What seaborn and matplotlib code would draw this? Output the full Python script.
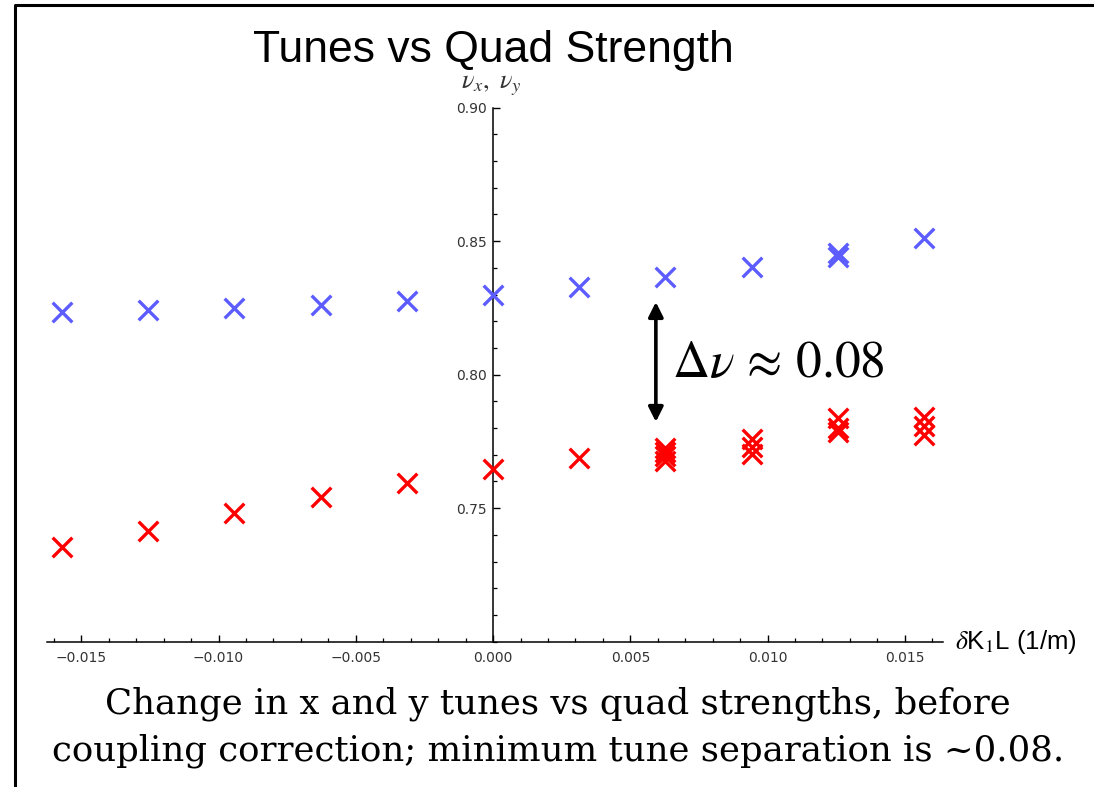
import numpy as np
import pandas as pd
import matplotlib
matplotlib.use("Agg")
import matplotlib.pyplot as plt
from matplotlib.lines import Line2D
from matplotlib.ticker import FixedLocator, MultipleLocator
import seaborn as sns

# ---------------- data ----------------
title = "Tunes vs Quad Strength"
xlabel_text = r"$\delta$K$_1$L (1/m)"
ylabel_text = r"$\nu_x,\ \nu_y$"
caption_lines = ["Change in x and y tunes vs quad strengths, before",
                 "coupling correction; minimum tune separation is ~0.08."]
annot_text = r"$\Delta\nu\,\approx\,0.08$"

# upper (blue) tune branch
blue_dk = [-0.0157, -0.01256, -0.00942, -0.00628, -0.00314, 0.0,
           0.00314, 0.00628, 0.00942, 0.01256, 0.01256, 0.0157]
blue_tune = [0.8234, 0.8242, 0.8249, 0.8261, 0.8277, 0.8299,
             0.8330, 0.8367, 0.8404, 0.8441, 0.8455, 0.8511]

# lower (red) tune branch
red_dk = [-0.0157, -0.01256, -0.00942, -0.00628, -0.00314, 0.0, 0.00314,
          0.00628, 0.00628, 0.00628, 0.00628,
          0.00942, 0.00942, 0.00942,
          0.01256, 0.01256, 0.01256,
          0.0157, 0.0157, 0.0157]
red_tune = [0.7353, 0.7414, 0.7482, 0.7542, 0.7595, 0.7645, 0.7688,
            0.7727, 0.7711, 0.7696, 0.7678,
            0.7760, 0.7730, 0.7704,
            0.7839, 0.7801, 0.7786,
            0.7840, 0.7806, 0.7773]

x_major_ticks = [-0.015, -0.010, -0.005, 0.000, 0.005, 0.010, 0.015]
y_major_ticks = [0.75, 0.80, 0.85, 0.90]

# annotation (arrow between branches)
arrow_x = 0.00593
arrow_top = 0.8272
arrow_bottom = 0.7823
annot_x = 0.00653
annot_y = 0.7990

# ---------------- style ----------------
sns.set_theme(style="ticks")
plt.rcParams["font.family"] = ["DejaVu Sans"]
plt.rcParams["mathtext.fontset"] = "stix"

W, H = 1094, 787
fig = plt.figure(figsize=(W / 100, H / 100), dpi=100)
fig.patch.set_facecolor("white")

def fx(px):
    return px / W

def fy(py):
    return 1 - py / H

ax = fig.add_axes([fx(46.7), fy(641.7), fx(943) - fx(46.7), fy(107.6) - fy(641.7)])
ax.set_facecolor("white")

blue_df = pd.DataFrame({"dk": blue_dk, "tune": blue_tune})
red_df = pd.DataFrame({"dk": red_dk, "tune": red_tune})

sns.scatterplot(data=blue_df, x="dk", y="tune", marker="x", s=200,
                color="#5c5cff", linewidth=2.4, ax=ax, zorder=3, legend=False)
sns.scatterplot(data=red_df, x="dk", y="tune", marker="x", s=200,
                color="#ff0000", linewidth=2.4, ax=ax, zorder=3, legend=False)

ax.set_xlim(-0.01626, 0.01639)
ax.set_ylim(0.70, 0.90)
ax.set_xlabel("")
ax.set_ylabel("")

# Mathematica-style crossing axes
for s in ["top", "right"]:
    ax.spines[s].set_visible(False)
ax.spines["left"].set_position(("data", 0.0))
ax.spines["bottom"].set_position(("data", 0.70))
for s in ["left", "bottom"]:
    ax.spines[s].set_linewidth(1.1)
    ax.spines[s].set_color("black")

ax.xaxis.set_major_locator(FixedLocator(x_major_ticks))
ax.xaxis.set_minor_locator(MultipleLocator(0.001))
ax.yaxis.set_major_locator(FixedLocator(y_major_ticks))
ax.yaxis.set_minor_locator(MultipleLocator(0.01))
ax.set_xticklabels([f"{v:.3f}".replace("-", "\u2212") for v in x_major_ticks])
ax.set_yticklabels([f"{v:.2f}" for v in y_major_ticks])

ax.tick_params(axis="both", which="major", direction="in", length=5, width=1.0,
               color="black", labelsize=10, labelcolor="#333333")
ax.tick_params(axis="both", which="minor", direction="in", length=3, width=0.9,
               color="black")
ax.tick_params(axis="x", which="major", pad=7)
ax.tick_params(axis="y", which="major", pad=4.5)

# arrow + annotation
ax.annotate("", xy=(arrow_x, arrow_top), xytext=(arrow_x, arrow_bottom),
            arrowprops=dict(arrowstyle="<|-|>", lw=2.6, color="black",
                            mutation_scale=22, shrinkA=0, shrinkB=0), zorder=4)
ax.text(annot_x, annot_y, annot_text, fontsize=37, color="black",
        ha="left", va="baseline", zorder=4)

# titles / labels
fig.text(fx(493), fy(61.7), title, fontsize=32, family="Liberation Sans",
         ha="center", va="baseline", color="black")
fig.text(fx(491.7), fy(85), ylabel_text, fontsize=19, ha="center", va="center",
         color="#333333")
fig.text(fx(955), fy(642.5), xlabel_text, fontsize=18.5, family="Liberation Sans",
         ha="left", va="center", color="black")

# caption
fig.text(fx(558), fy(713.3), caption_lines[0], fontsize=25.6, family="DejaVu Serif",
         ha="center", va="baseline", color="black")
fig.text(fx(558), fy(760.7), caption_lines[1], fontsize=25.6, family="DejaVu Serif",
         ha="center", va="baseline", color="black")

# slide frame (top and left edges)
fig.add_artist(Line2D([fx(15), fx(15), 1.0], [0.0, fy(5), fy(5)],
                      transform=fig.transFigure, color="black", lw=2.2))

fig.savefig("out.png", dpi=100, facecolor="white")
